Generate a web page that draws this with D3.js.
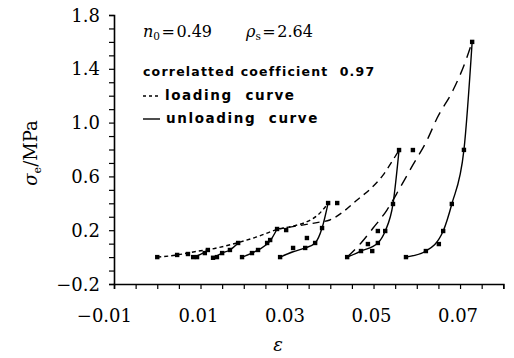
<!DOCTYPE html>
<html><head><meta charset="utf-8">
<script src="https://cdn.jsdelivr.net/npm/d3@7/dist/d3.min.js"></script>
<style>
body{margin:0;background:#fff;}
svg{display:block;}
</style></head>
<body><svg id="c" width="514" height="358"></svg>
<script>
// ---------- data ----------
const xTickValues = d3.range(0, 19).map(i => -0.01 + i * 0.005);
const xLabelValues = [-0.01, 0.01, 0.03, 0.05, 0.07];
const xLabels = ["\u22120.01", "0.01", "0.03", "0.05", "0.07"];
const yTickValues = d3.range(0, 21).map(i => -0.2 + i * 0.1);
const yLabelValues = [-0.2, 0.2, 0.6, 1.0, 1.4, 1.8];
const yLabels = ["\u22120.2", "0.2", "0.6", "1.0", "1.4", "1.8"];

// measured points (strain, stress)
const pointStrain = [0.000,0.0046,0.0071,0.0083,0.0092,0.0110,0.0117,0.0129,0.0138,0.0150,0.0168,0.0187,
  0.0196,0.0219,0.0233,0.0254,0.0261,0.0277,0.0298,0.0284,0.0314,0.0342,0.0346,0.0365,0.0381,0.0395,0.0416,
  0.0439,0.0471,0.0487,0.0497,0.0510,0.0510,0.0527,0.0545,0.0559,0.0591,
  0.0575,0.0621,0.0651,0.0661,0.0681,0.0709,0.0728];
const pointStress = [0.000,0.016,0.023,0.000,0.000,0.030,0.053,-0.005,0.000,0.030,0.053,0.105,
  0.000,0.030,0.053,0.105,0.127,0.209,0.201,0.000,0.068,0.068,0.142,0.105,0.216,0.402,0.402,
  0.000,0.045,0.097,0.045,0.105,0.194,0.194,0.395,0.796,0.796,
  0.000,0.045,0.097,0.194,0.395,0.797,1.600];

// loading curves (dashed)
const loadA_strain = [0.000,0.0046,0.0083,0.0138,0.0184,0.0230,0.0277,0.0310,0.0345,0.0372,0.0395];
const loadA_stress = [0.000,0.016,0.038,0.068,0.105,0.150,0.205,0.228,0.262,0.315,0.400];
const loadB_strain = [0.0277,0.0310,0.0345,0.0372,0.0399,0.0429,0.0462,0.0492,0.0522,0.0545,0.0559];
const loadB_stress = [0.209,0.225,0.243,0.258,0.276,0.335,0.425,0.505,0.610,0.722,0.796];
const loadC_strain = [0.0439,0.0473,0.0499,0.0531,0.0561,0.0591,0.0624,0.0647,0.0684,0.0712,0.0728];
const loadC_stress = [0.000,0.112,0.216,0.350,0.514,0.685,0.871,1.034,1.242,1.450,1.600];

// unloading curves (solid)
const unload1_strain = [0.0083,0.0100,0.0117];
const unload1_stress = [0.000,0.020,0.053];
const unload2_strain = [0.0129,0.0150,0.0168,0.0187];
const unload2_stress = [-0.005,0.030,0.053,0.105];
const unload3_strain = [0.0196,0.0219,0.0233,0.0261,0.0277];
const unload3_stress = [0.000,0.030,0.053,0.120,0.209];
const unload4_strain = [0.0284,0.0314,0.0342,0.0365,0.0381,0.0395];
const unload4_stress = [0.000,0.040,0.068,0.105,0.216,0.402];
const unload5_strain = [0.0439,0.0471,0.0510,0.0527,0.0545,0.0559];
const unload5_stress = [0.000,0.045,0.105,0.194,0.395,0.796];
const unload6_strain = [0.0575,0.0621,0.0661,0.0681,0.0709,0.0728];
const unload6_stress = [0.000,0.045,0.194,0.395,0.797,1.600];

// ---------- drawing ----------
const svg = d3.select("#c");
const x = d3.scaleLinear().domain([-0.01, 0.08]).range([114, 503.3]);
const y = d3.scaleLinear().domain([-0.2, 1.8]).range([284, 15]);
const serif = "'DejaVu Serif', serif";

// axes
const xAxis = d3.axisBottom(x).tickValues(xTickValues).tickSize(5).tickFormat("");
const gx = svg.append("g").attr("transform", "translate(0,284)").call(xAxis);
const yAxis = d3.axisLeft(y).tickValues(yTickValues).tickSize(5).tickFormat("");
const gy = svg.append("g").attr("transform", "translate(114,0)").call(yAxis);
[gx, gy].forEach(g => {
  g.select(".domain").attr("stroke", "#000").attr("stroke-width", 1.6);
  g.selectAll(".tick line").attr("stroke", "#000").attr("stroke-width", 1.2);
});

svg.append("g").selectAll("text").data(xLabelValues).join("text")
  .attr("x", d => x(d) + 18).attr("y", 322)
  .attr("text-anchor", "end").attr("font-family", serif).attr("font-size", 18)
  .text((d, i) => xLabels[i]);
svg.append("g").selectAll("text").data(yLabelValues).join("text")
  .attr("x", 100).attr("y", d => y(d) + 6.5)
  .attr("text-anchor", "end").attr("font-family", serif).attr("font-size", 18)
  .text((d, i) => yLabels[i]);

// axis titles
const yt = svg.append("text").attr("transform", "translate(37,153) rotate(-90)")
  .attr("text-anchor", "middle").attr("font-family", serif).attr("font-size", 18);
yt.append("tspan").attr("font-style", "italic").text("\u03C3");
yt.append("tspan").attr("font-size", 11).attr("dy", 4).text("e");
yt.append("tspan").attr("dy", -4).text("/MPa");
svg.append("text").attr("x", 278).attr("y", 351).attr("text-anchor", "middle")
  .attr("font-family", serif).attr("font-style", "italic").attr("font-size", 18).text("\u03B5");

// curves
const mk = (xs, ys) => xs.map((v, i) => [v, ys[i]]);
const line = d3.line().x(d => x(d[0])).y(d => y(d[1])).curve(d3.curveMonotoneX);
const dashed = [
  [loadA_strain, loadA_stress, "4,3"],
  [loadB_strain, loadB_stress, "7,5"],
  [loadC_strain, loadC_stress, "11,7"]
];
dashed.forEach(([xs, ys, da]) => {
  svg.append("path").attr("d", line(mk(xs, ys))).attr("fill", "none")
    .attr("stroke", "#000").attr("stroke-width", 1.4).attr("stroke-dasharray", da);
});
const solids = [
  [unload1_strain, unload1_stress], [unload2_strain, unload2_stress],
  [unload3_strain, unload3_stress], [unload4_strain, unload4_stress],
  [unload5_strain, unload5_stress], [unload6_strain, unload6_stress]
];
solids.forEach(([xs, ys]) => {
  svg.append("path").attr("d", line(mk(xs, ys))).attr("fill", "none")
    .attr("stroke", "#000").attr("stroke-width", 1.4);
});

// points
svg.append("g").selectAll("rect").data(mk(pointStrain, pointStress)).join("rect")
  .attr("x", d => x(d[0]) - 2.2).attr("y", d => y(d[1]) - 2.2)
  .attr("width", 4.4).attr("height", 4.4).attr("fill", "#000");

// annotations
const t1 = svg.append("text").attr("x", 143).attr("y", 37)
  .attr("font-family", serif).attr("font-size", 16);
t1.append("tspan").attr("font-style", "italic").text("n");
t1.append("tspan").attr("font-size", 10.5).attr("dy", 3).text("0");
t1.append("tspan").attr("dy", -3).attr("dx", 1.5).text("=");
t1.append("tspan").attr("dx", 1.5).text("0.49");
t1.append("tspan").attr("x", 246).attr("font-style", "italic").text("\u03C1");
t1.append("tspan").attr("font-size", 10.5).attr("dy", 3).text("s");
t1.append("tspan").attr("dy", -3).attr("dx", 1.5).text("=");
t1.append("tspan").attr("dx", 1.5).text("2.64");

const sans = "'DejaVu Sans', sans-serif";
const legendText = (xx, yy, s, fs, ls) => svg.append("text").attr("x", xx).attr("y", yy)
  .attr("font-family", sans).attr("font-weight", "bold").attr("font-size", fs)
  .attr("letter-spacing", ls).attr("xml:space", "preserve").style("white-space", "pre").text(s);
legendText(143, 76, "correlatted coefficient  0.97", 12.5, 1.2);
svg.append("line").attr("x1", 143).attr("x2", 159).attr("y1", 96).attr("y2", 96)
  .attr("stroke", "#000").attr("stroke-width", 1.4).attr("stroke-dasharray", "3,3");
legendText(165, 100, "loading  curve", 13.5, 1.6);
svg.append("line").attr("x1", 143).attr("x2", 160).attr("y1", 119).attr("y2", 119)
  .attr("stroke", "#000").attr("stroke-width", 1.4);
legendText(166, 123, "unloading  curve", 13.5, 1.6);
</script></body></html>
